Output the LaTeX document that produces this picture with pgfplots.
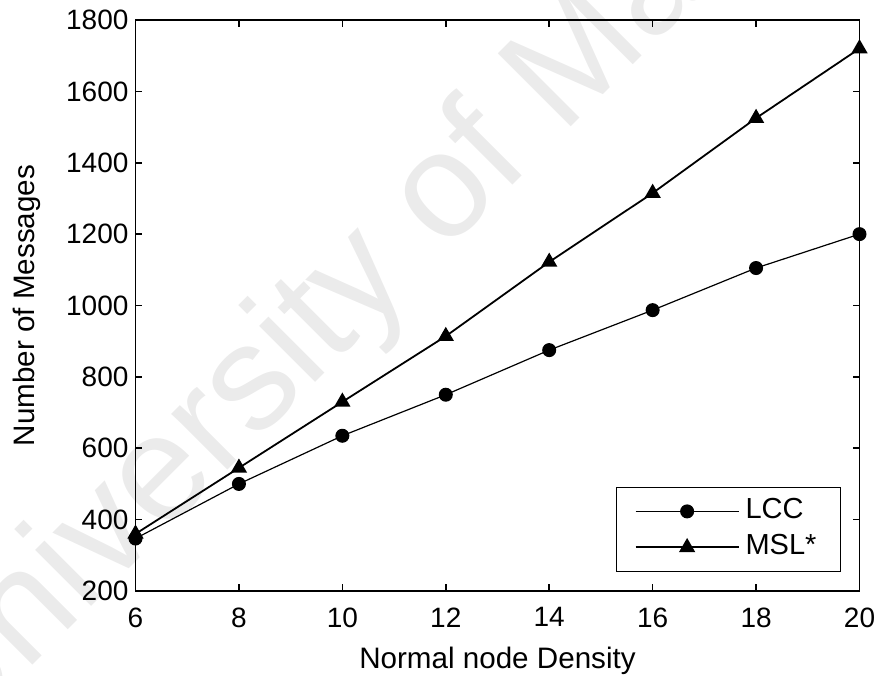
\documentclass[border=0pt]{standalone}
\usepackage{pgfplots}
\pgfplotsset{compat=1.18}
\usepackage{fontspec}
\setmainfont{Liberation Sans}
\begin{document}
\begin{tikzpicture}
\useasboundingbox (-67.75pt,-42pt) rectangle (371.25pt,295.5pt);
\node[rotate=45, anchor=base west, text=black!8, inner sep=0pt, font=\fontsize{75}{80}\selectfont] at (-93.25pt,-79pt) {University of Malaya};
\begin{axis}[
  at={(0,0)}, anchor=south west,
  scale only axis, width=362pt, height=285.5pt,
  xmin=6, xmax=20, ymin=200, ymax=1800,
  xtick={6,8,...,20}, ytick={200,400,...,1800},
  tick align=inside,
  major tick length=3.5pt,
  axis line style={line width=0.8pt},
  every tick/.style={black, line width=0.8pt},
  clip=false,
  /pgf/number format/assume math mode=true,
  /pgf/number format/1000 sep={},
  tick label style={font=\fontsize{14}{16}\selectfont},
  xticklabel style={yshift=-4.8pt},
  label style={font=\fontsize{14.8}{17}\selectfont},
  xlabel={Normal node Density},
  ylabel={Number of Messages},
  x label style={at={(axis description cs:0.5,-0.135)}, anchor=base},
  y label style={at={(axis description cs:-0.1499,0.5)}, anchor=center},
  legend style={at={(axis description cs:0.9745,0.0333)}, anchor=south east,
    draw=black, line width=0.6pt, fill=white,
    font=\fontsize{14.5}{17}\selectfont,
    inner xsep=9pt, inner ysep=3pt, row sep=0pt,
    nodes={inner xsep=3pt, inner ysep=1.5pt, text height=11pt, text depth=4pt}},
  legend cell align=left,
  legend image code/.code={\draw[mark repeat=2,mark phase=2] plot coordinates {(0pt,0pt) (25.75pt,0pt) (51.5pt,0pt)};},
]
\addplot[black, line width=0.6pt, mark=*, mark size=3.2pt, mark options={solid, fill=black}]
  coordinates {(6,347) (8,500) (10,635) (12,750) (14,875) (16,987) (18,1105) (20,1200)};
\addlegendentry{LCC}
\addplot[black, line width=0.9pt, mark=triangle*, mark size=3.8pt, mark options={solid, fill=black}]
  coordinates {(6,360) (8,545) (10,730) (12,914) (14,1122) (16,1315) (18,1525) (20,1720)};
\addlegendentry{MSL*}
\end{axis}
\end{tikzpicture}
\end{document}
